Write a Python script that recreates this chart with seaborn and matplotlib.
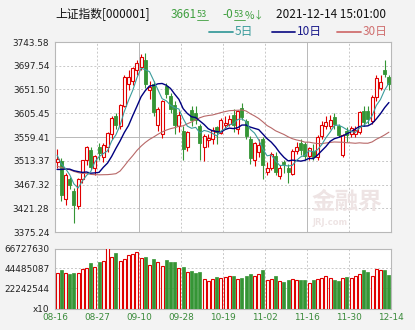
import numpy as np
import pandas as pd
import matplotlib
matplotlib.use('Agg')
import matplotlib.pyplot as plt
import seaborn as sns
from matplotlib.lines import Line2D

dates = ['08-16','08-17','08-18','08-19','08-20','08-23','08-24','08-25','08-26','08-27',
         '08-30','08-31','09-01','09-02','09-03','09-06','09-07','09-08','09-09','09-10',
         '09-13','09-14','09-15','09-16','09-17','09-22','09-23','09-24','09-27','09-28',
         '09-29','09-30','10-08','10-11','10-12','10-13','10-14','10-15','10-18','10-19',
         '10-20','10-21','10-22','10-25','10-26','10-27','10-28','10-29','11-01','11-02',
         '11-03','11-04','11-05','11-08','11-09','11-10','11-11','11-12','11-15','11-16',
         '11-17','11-18','11-19','11-22','11-23','11-24','11-25','11-26','11-29','11-30',
         '12-01','12-02','12-03','12-06','12-07','12-08','12-09','12-10','12-13','12-14']

opens = [3510,3512,3440,3478,3455,3425,3478,3515,3535,3500,
         3540,3520,3540,3565,3600,3580,3620,3662,3668,3690,
         3695,3708,3650,3662,3582,3565,3658,3638,3622,3580,
         3572,3540,3611,3605,3580,3540,3553,3556,3578,3568,
         3582,3584,3603,3575,3615,3590,3556,3515,3530,3556,
         3492,3500,3523,3484,3510,3500,3488,3533,3548,3545,
         3522,3532,3520,3562,3580,3580,3598,3580,3525,3572,
         3566,3565,3570,3610,3610,3590,3637,3655,3690,3675]
highs = [3536,3518,3490,3482,3460,3480,3515,3542,3540,3525,
         3547,3547,3570,3600,3605,3623,3680,3690,3695,3708,
         3720,3723,3668,3668,3618,3632,3665,3645,3630,3610,
         3580,3571,3620,3620,3585,3565,3566,3578,3580,3597,
         3600,3603,3613,3612,3625,3595,3562,3550,3556,3560,
         3510,3530,3530,3505,3515,3508,3537,3550,3555,3550,
         3540,3545,3563,3590,3600,3602,3605,3585,3566,3578,
         3580,3580,3610,3620,3620,3640,3680,3680,3708,3680]
lows = [3500,3436,3428,3458,3393,3420,3470,3505,3498,3485,
        3515,3510,3530,3555,3575,3575,3618,3650,3660,3680,
        3690,3655,3634,3600,3572,3558,3635,3605,3565,3570,
        3515,3532,3580,3585,3515,3512,3540,3545,3545,3565,
        3575,3580,3570,3566,3592,3555,3508,3503,3520,3478,
        3485,3495,3486,3478,3490,3470,3485,3526,3525,3515,
        3515,3515,3515,3555,3575,3575,3575,3560,3520,3550,
        3560,3560,3565,3580,3585,3585,3630,3650,3675,3650]
closes = [3517.34,3446.98,3485.29,3465.55,3427.33,3477.13,3514.47,3540.38,3501.66,3522.16,
          3528.15,3543.94,3567.10,3597.04,3581.73,3621.86,3676.59,3675.19,3693.13,3703.11,
          3715.37,3662.60,3656.22,3607.09,3613.97,3628.49,3642.22,3613.07,3582.83,3602.22,
          3536.29,3568.17,3592.17,3591.71,3546.94,3561.76,3558.28,3572.37,3568.14,3593.15,
          3587.00,3594.78,3582.60,3609.86,3597.64,3562.31,3518.42,3547.34,3544.48,3505.63,
          3498.54,3526.87,3491.57,3498.63,3507.00,3492.46,3532.79,3539.10,3533.30,3521.79,
          3537.37,3520.71,3560.37,3582.08,3589.09,3592.70,3584.18,3564.09,3562.70,3563.89,
          3576.89,3573.84,3607.43,3589.31,3595.09,3637.57,3673.04,3666.35,3681.08,3661.53]
# closes of the 29 sessions before 08-16 (needed for the 30-day average)
prior_closes = [3530.26,3553.72,3525.50,3524.09,3547.84,3566.59,3528.50,3564.59,3539.30,3536.79,
                3537.00,3562.00,3574.73,3550.40,3467.44,3381.18,3361.59,3411.72,3397.36,3464.29,
                3447.99,3477.22,3466.56,3458.23,3494.63,3529.93,3532.62,3524.74,3516.30]
# volume in millions (axis unit x10)
volumes = [39.67,42.63,39.30,38.56,39.30,39.30,43.75,44.86,50.42,45.97,
           51.53,52.64,66.73,57.09,61.54,52.64,54.87,59.32,60.43,63.39,
           55.98,57.09,48.19,54.87,51.53,47.08,53.75,51.53,51.53,44.86,
           45.97,40.41,41.52,39.30,40.41,32.62,30.40,32.62,34.85,33.74,
           34.85,35.96,35.96,32.62,33.74,35.96,38.18,35.96,38.18,42.63,
           31.51,32.62,35.96,30.40,29.29,31.51,32.62,31.51,31.51,31.51,
           28.17,31.51,32.62,33.74,35.96,33.74,31.51,30.40,33.74,34.85,
           33.74,35.96,38.18,42.63,40.41,35.96,43.75,42.63,42.63,37.07]

price_ticks = [3375.24, 3421.28, 3467.32, 3513.37, 3559.41, 3605.45, 3651.50, 3697.54, 3743.58]
vol_ticks = [0, 22.242544, 44.485087, 66.727630]
vol_tick_labels = ['x10', '22242544', '44485087', '66727630']
tick_idx = [0, 9, 19, 29, 39, 49, 59, 69, 79]

RED = '#e00000'
GREEN = '#359535'
MA5C = '#3c9c9c'
MA10C = '#000080'
MA30C = '#b86868'
GRID = '#c8c8c8'

sns.set_theme(style='white')
plt.rcParams['font.family'] = ['DejaVu Sans']

W, H = 415, 330
fig = plt.figure(figsize=(W / 100, H / 100), dpi=100, facecolor='#f3f3f3')
ax = fig.add_axes([55 / W, 1 - 232 / H, 336 / W, 190 / H])
axv = fig.add_axes([55 / W, 1 - 308.5 / H, 336 / W, 60 / H])

o = np.array(opens, float); h = np.array(highs, float)
l = np.array(lows, float); c = np.array(closes, float)
n = len(c)
x = np.arange(n)
up = c >= o
cols = np.where(up, RED, GREEN)

# grid
grid_x = [t + 0.5 for t in tick_idx[1:-1]]
for gx in grid_x:
    solid = gx in (19.5, 59.5)
    ax.axvline(gx, color='#b8b8b8' if solid else GRID, lw=0.7,
               ls='-' if solid else (0, (2, 2)), zorder=0)
    axv.axvline(gx, color=GRID, lw=0.7, ls=(0, (2, 2)), zorder=0)
for k, yt in enumerate(price_ticks[1:-1]):
    solid = (k + 1) == 4
    ax.axhline(yt, color='#b8b8b8' if solid else GRID, lw=0.7,
               ls='-' if solid else (0, (2, 2)), zorder=0)
for yt in vol_ticks[1:3]:
    axv.axhline(yt, color=GRID, lw=0.7, ls=(0, (2, 2)), zorder=0)

# watermark
ax.text(69, 3433, '金融界', fontsize=17, fontweight='bold', color='#eee4e4',
        family=['Noto Sans CJK SC', 'DejaVu Sans'], ha='center', va='center', zorder=0.5)
ax.text(65, 3393, 'JRJ.com', fontsize=6, fontweight='bold', color='#eee4e4',
        ha='center', va='center', zorder=0.5)

# candles
ax.vlines(x, l, h, colors=cols, lw=0.8, zorder=2)
bb = np.minimum(o, c)
bh = np.maximum(np.abs(c - o), 0.9)
ax.bar(x[up], bh[up], bottom=bb[up], width=0.7, facecolor='white', edgecolor=RED,
       lw=0.8, zorder=3)
ax.bar(x[~up], bh[~up], bottom=bb[~up], width=0.7, facecolor=GREEN, edgecolor=GREEN,
       lw=0.6, zorder=3)

# moving averages
s = pd.Series(np.concatenate([prior_closes, closes]))
ma = pd.DataFrame({
    'x': x,
    'MA5': s.rolling(5).mean().values[-n:],
    'MA10': s.rolling(10).mean().values[-n:],
    'MA30': s.rolling(30).mean().values[-n:],
})
sns.lineplot(data=ma, x='x', y='MA30', ax=ax, color=MA30C, lw=0.8, zorder=4)
sns.lineplot(data=ma, x='x', y='MA10', ax=ax, color=MA10C, lw=1.0, zorder=5)
sns.lineplot(data=ma, x='x', y='MA5', ax=ax, color=MA5C, lw=0.8, zorder=6)

ax.set_xlim(-0.5, n - 0.5)
ax.set_ylim(price_ticks[0], price_ticks[-1])
ax.set_yticks(price_ticks)
ax.set_yticklabels([f'{v:.2f}' for v in price_ticks])
ax.set_xticks([])
ax.set_xlabel(''); ax.set_ylabel('')

# volume
v = np.array(volumes)
axv.bar(x[up], v[up], width=0.7, facecolor='white', edgecolor=RED, lw=0.8, zorder=3)
axv.bar(x[~up], v[~up], width=0.7, facecolor=GREEN, edgecolor=GREEN, lw=0.5, zorder=3)
axv.set_xlim(-0.5, n - 0.5)
axv.set_ylim(0, vol_ticks[-1])
axv.set_yticks(vol_ticks)
axv.set_yticklabels(vol_tick_labels)
axv.set_xticks([-0.5] + grid_x + [n - 0.5])
axv.set_xticklabels([dates[i] for i in tick_idx])

for a in (ax, axv):
    a.set_facecolor('white')
    for sp in a.spines.values():
        sp.set_color('#b8b8b8'); sp.set_linewidth(0.8)
    a.tick_params(axis='y', length=0, labelsize=6.4, pad=4, labelcolor='#222222')
axv.tick_params(axis='x', length=0, labelsize=6.4, pad=3, labelcolor='#3a8a3a')

# header
def P(xp, yp):
    return xp / W, 1 - yp / H

CJK = ['Noto Sans CJK SC', 'DejaVu Sans']
HFS = 8.5
HG = '#3f9f3f'
fig.text(*P(55, 15), '上证指数[000001]', family=CJK, fontsize=HFS, color='#111111',
         ha='left', va='center')
fig.text(*P(171, 15), '3661', family=CJK, fontsize=HFS, color=HG, ha='left', va='center')
fig.text(*P(197, 14.5), '53', family=CJK, fontsize=6.5, color=HG, ha='left', va='center')
fig.add_artist(Line2D([197 / W, 208 / W], [1 - 19.5 / H, 1 - 19.5 / H], color=HG, lw=0.6))
fig.text(*P(222, 15), '-0', family=CJK, fontsize=HFS, color=HG, ha='left', va='center')
fig.text(*P(234, 14.5), '53', family=CJK, fontsize=6.5, color=HG, ha='left', va='center')
fig.add_artist(Line2D([234 / W, 245 / W], [1 - 19.5 / H, 1 - 19.5 / H], color=HG, lw=0.6))
fig.text(*P(245, 15), '%↓', family=CJK, fontsize=7.5, color=HG, ha='left', va='center')
fig.text(*P(276, 15), '2021-12-14 15:01:00', family=CJK, fontsize=HFS, color='#111111',
         ha='left', va='center')

legend_items = [(209, 233, 235, '5日', MA5C), (272, 295, 297, '10日', '#1a1a8a'),
                (337, 361, 363, '30日', '#d07070')]
for x0, x1, xt, lab, col in legend_items:
    fig.add_artist(Line2D([x0 / W, x1 / W], [1 - 32 / H, 1 - 32 / H], color=col, lw=1.3))
    fig.text(*P(xt, 32), lab, family=CJK, fontsize=HFS, color=col, ha='left', va='center')

fig.savefig('out.png', dpi=100, facecolor=fig.get_facecolor())
